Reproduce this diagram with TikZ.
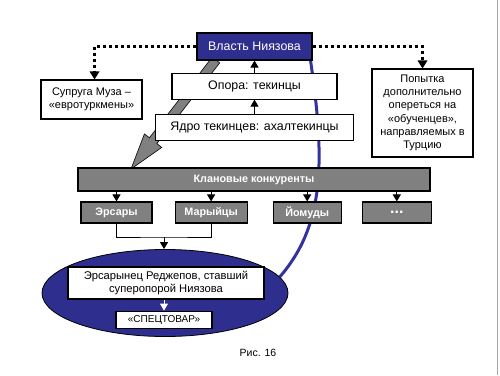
\documentclass[tikz,border=0pt]{standalone}
\usepackage{fontspec}
\setmainfont{Liberation Sans}
\usetikzlibrary{arrows.meta,positioning,shapes.geometric,backgrounds,calc}
\definecolor{niyblue}{RGB}{46,46,143}
\definecolor{curveblue}{RGB}{51,51,160}
\definecolor{clangray}{RGB}{128,128,128}
\definecolor{framegray}{RGB}{165,165,165}
\begin{document}
\begin{tikzpicture}[x=1pt,y=-1pt,
box/.style={draw,fill=white,line width=1.1pt,align=center,inner sep=0pt,font=\fontsize{12.4}{14}\selectfont},
note/.style={box,font=\fontsize{11}{13.3}\selectfont},
clan/.style={draw,fill=clangray,line width=1.1pt,text=white,inner sep=0pt,minimum height=21pt,font=\fontsize{10.8}{12}\selectfont\bfseries},
arr/.style={-{Triangle[length=7pt,width=8pt]},line width=1pt},
dots/.style={line width=3pt,dash pattern=on 3pt off 3pt,-{Triangle[length=8pt,width=10pt,line width=0pt]}}]
\useasboundingbox(0,0)rectangle(500,375);
\begin{scope}[on background layer]\fill[white](0,0)rectangle(500,375);\end{scope}
\draw[framegray,line width=1.5pt](497.5,0)--(497.5,375);
% top part
\node[box,fill=niyblue,text=white,minimum width=115pt,minimum height=27pt](vlast)at(254.5,46.5){Власть Ниязова};
\node[box,minimum width=165pt,minimum height=26pt,below=12pt of vlast](opora){Опора: текинцы};
\node[box,minimum width=198pt,minimum height=26pt,below=14pt of opora](yadro){Ядро текинцев: ахалтекинцы};
\node[note,minimum width=101pt,minimum height=39pt](wife)at(91.5,99.5){Супруга Муза –\\«евротуркмены»};
\node[note,minimum width=101pt,minimum height=88pt](trainees)at(422.5,113){Попытка\\дополнительно\\опереться на\\«обученцев»,\\направляемых в\\Турцию};
% clans
\node[clan,minimum width=352pt,minimum height=23pt](rivals)at(254,179.5){Клановые конкуренты};
\node[clan,minimum width=71pt](ersary)at(116.5,212.5){Эрсары};
\node[clan,minimum width=72pt,right=22pt of ersary](maryi){Марыйцы};
\node[clan,minimum width=68pt,right=25pt of maryi](yomud){Йомуды};
\node[clan,minimum width=69pt,right=20pt of yomud,font=\fontsize{16}{16}\selectfont\bfseries](other){\raisebox{-2.5pt}{...}};
% ellipse
\node[ellipse,draw,fill=niyblue,line width=0.8pt,minimum width=246pt,minimum height=87pt](clanell)at(165,293){};
\node[box,font=\fontsize{11.2}{13}\selectfont,minimum width=196pt,minimum height=32pt](redzhepov)at(166,283){Эрсарынец Реджепов, ставший\\суперопорой Ниязова};
\node[box,font=\fontsize{10}{12}\selectfont,minimum width=96pt,minimum height=17pt,below=11pt of redzhepov,xshift=-2pt](spec){«СПЕЦТОВАР»};
\node[font=\fontsize{10.5}{12}\selectfont](caption)at(258,353){Рис. 16};
% connectors
\draw[arr](yadro.north-|opora)--(opora.south);\draw[arr](opora.north)--(vlast.south);
\draw[dots](vlast.west)-|([xshift=3pt]wife.north);
\draw[dots](vlast.east)-|(trainees.north);
\foreach \c in {ersary,maryi,yomud,other}\draw[arr](rivals.south-|\c)--(\c.north);
\coordinate(join)at(164,237);
\draw[line width=1pt](ersary.south)|-(join)-|(maryi.south);
\draw[arr](join)--(join|-clanell.north);
\draw[arr,white](spec.north|-redzhepov.south)--(spec.north);
\begin{scope}[on background layer]
\coordinate(gs)at(216,60);\coordinate(gt)at(131,169);\coordinate(gn)at($(gs)!0.74!(gt)$);
\draw[fill=clangray,line width=0.6pt]($(gs)!4.7pt!90:(gt)$)--($(gn)!4.7pt!90:(gt)$)--($(gn)!11pt!90:(gt)$)--(gt)
  --($(gn)!11pt!-90:(gt)$)--($(gn)!4.7pt!-90:(gt)$)--($(gs)!4.7pt!-90:(gt)$)--cycle;
\draw[curveblue,line width=3pt]([xshift=-2pt]vlast.south east)..controls(325,160)and(325,225)..(clanell.8);
\end{scope}
\end{tikzpicture}
\end{document}
